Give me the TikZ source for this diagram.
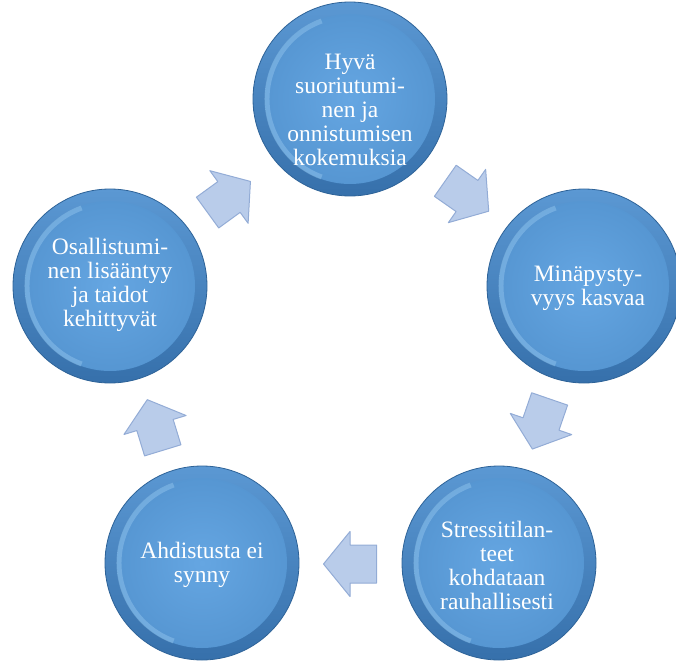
\documentclass[tikz,border=0pt]{standalone}
\usepackage{fontspec}
\setmainfont{Liberation Serif}
\definecolor{rimhi}{HTML}{5B98D3}
\definecolor{rimlo}{HTML}{3670AB}
\definecolor{rimedge}{HTML}{2E6398}
\definecolor{discin}{HTML}{65A6E2}
\definecolor{discout}{HTML}{5494D0}
\definecolor{hilite}{HTML}{A8D6F6}
\definecolor{arrfill}{HTML}{B9CCEA}
\definecolor{arrdraw}{HTML}{93ACD6}
\begin{document}
\begin{tikzpicture}[x=1pt,y=-1pt,
  ball/.style={circle, minimum size=194pt, inner sep=0pt,
    top color=rimhi, bottom color=rimlo, draw=rimedge, line width=0.8pt,
    path picture={
      \shade[inner color=discin, outer color=discout]
        (path picture bounding box.center) circle (85pt);
      \draw[hilite, line width=5pt, opacity=.35]
        (path picture bounding box.center) ++(110:83pt) arc (110:250:83pt);
    }},
  lbl/.style={text=white, align=center, inner sep=0pt,
    font=\fontsize{23.5}{24}\selectfont},
  blk/.pic={
    \path[fill=arrfill, draw=arrdraw, line width=1pt, line join=round]
      (-26.5,-19) -- (0,-19) -- (0,-32.5) -- (26.5,0) -- (0,32.5)
      -- (0,19) -- (-26.5,19) -- cycle;
  }]
\useasboundingbox (0,0) rectangle (676,660);

\node[ball] (c1) at (350,99) {};
\node[ball] (c2) at (584,286) {};
\node[ball] (c3) at (499,563) {};
\node[ball] (c4) at (202,563) {};
\node[ball] (c5) at (110,286) {};

\node[lbl] (t1) at (350,110) {Hyvä\\suoriutumi-\\nen ja\\onnistumisen\\kokemuksia};
\node[lbl] (t2) at (588,288) {Minäpysty-\\vyys kasvaa};
\node[lbl] (t3) at (497,565) {Stressitilan-\\teet\\kohdataan\\rauhallisesti};
\node[lbl] (t4) at (202,565) {Ahdistusta ei\\synny};
\node[lbl] (t5) at (110,285) {Osallistumi-\\nen lisääntyy\\ja taidot\\kehittyvät};

\pic[rotate=36] (a1) at (229,197) {blk};
\pic[rotate=-35] (a2) at (467,196) {blk};
\pic[rotate=-109] (a3) at (541,424) {blk};
\pic[rotate=180] (a4) at (350,564) {blk};
\pic[rotate=107] (a5) at (155,425) {blk};
\end{tikzpicture}
\end{document}
